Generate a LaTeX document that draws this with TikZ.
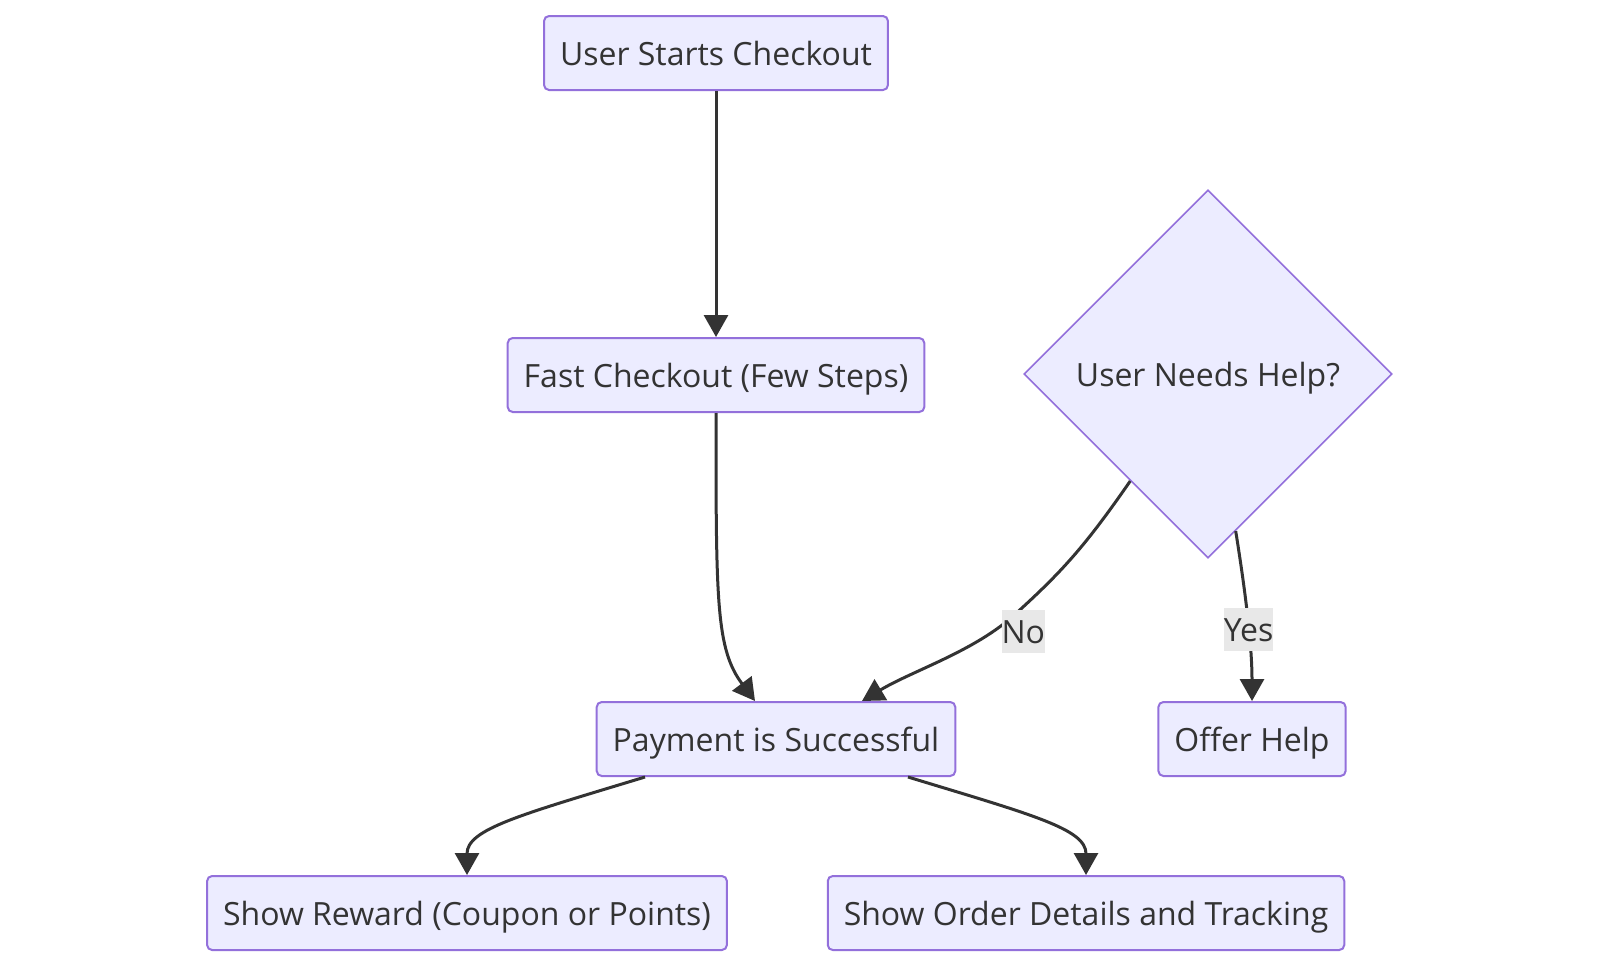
\documentclass[tikz,border=0pt]{standalone}
\usepackage{fontspec}
\setmainfont{Open Sans}
\usetikzlibrary{shapes.geometric,arrows.meta,calc}
\definecolor{boxfill}{HTML}{ECECFF}
\definecolor{boxline}{HTML}{9370DB}
\definecolor{inkgray}{HTML}{333333}
\definecolor{labelbg}{HTML}{E8E8E8}
\begin{document}
\begin{tikzpicture}[x=0.5pt, y=-0.5pt,
	every node/.style={font=\fontsize{16}{19}\selectfont, text=inkgray, text height=12pt, text depth=0pt},
	proc/.style={draw=boxline, fill=boxfill, line width=1pt, rounded corners=2.5pt, minimum height=37pt, inner xsep=8pt},
	choice/.style={diamond, draw=boxline, fill=boxfill, line width=0.8pt, aspect=1, minimum size=184pt, inner sep=0pt},
	flow/.style={draw=inkgray, line width=1.5pt, -{Triangle[length=11pt, width=12pt]}},
	lab/.style={fill=labelbg, inner sep=0pt, minimum height=21.5pt}]
			\useasboundingbox (0,0) rectangle (1600,966);
			%Nodes of the chart
			\node[proc] (UserStart) at (716,53) {User Starts Checkout};
			\node[proc] (FastCheck) at (716,375) {Fast Checkout (Few Steps)};
			\node[choice] (NeedHelp) at (1208,374) {User Needs Help?};
			\node[proc] (PaySuccess) at (776,739) {Payment is Successful};
			\node[proc] (OfferHelp) at (1252,739) {Offer Help};
			\node[proc] (ShowReward) at (467,913) {Show Reward (Coupon or Points)};
			\node[proc] (ShowOrder) at (1086,913) {Show Order Details and Tracking};
			%Edges
			\draw[flow] (UserStart) -- (FastCheck);
			\draw[flow] (FastCheck.south) .. controls +(0,189) and +(-39,-52) .. ($(PaySuccess.north)+(-21,0)$);
			\draw[flow] (NeedHelp.234) .. controls +(-45,65) and +(50,-45) .. (1012,617) node[lab, right=-6pt, yshift=-7pt] (No) {No}
				.. controls +(-40,35) and +(50,-30) .. ($(PaySuccess.north)+(86,0)$);
			\draw[flow] (NeedHelp.280) .. controls +(8,50) and +(0,-60) .. (OfferHelp.north) node[lab, pos=0.6] (Yes) {Yes};
			
			\draw[flow] ($(PaySuccess.south)+(-131,0)$) .. controls +(-125,38) and +(0,-46) .. (ShowReward.north);
			\draw[flow] ($(PaySuccess.south)+(132,0)$) .. controls +(125,38) and +(0,-46) .. (ShowOrder.north);
\end{tikzpicture}
\end{document}
